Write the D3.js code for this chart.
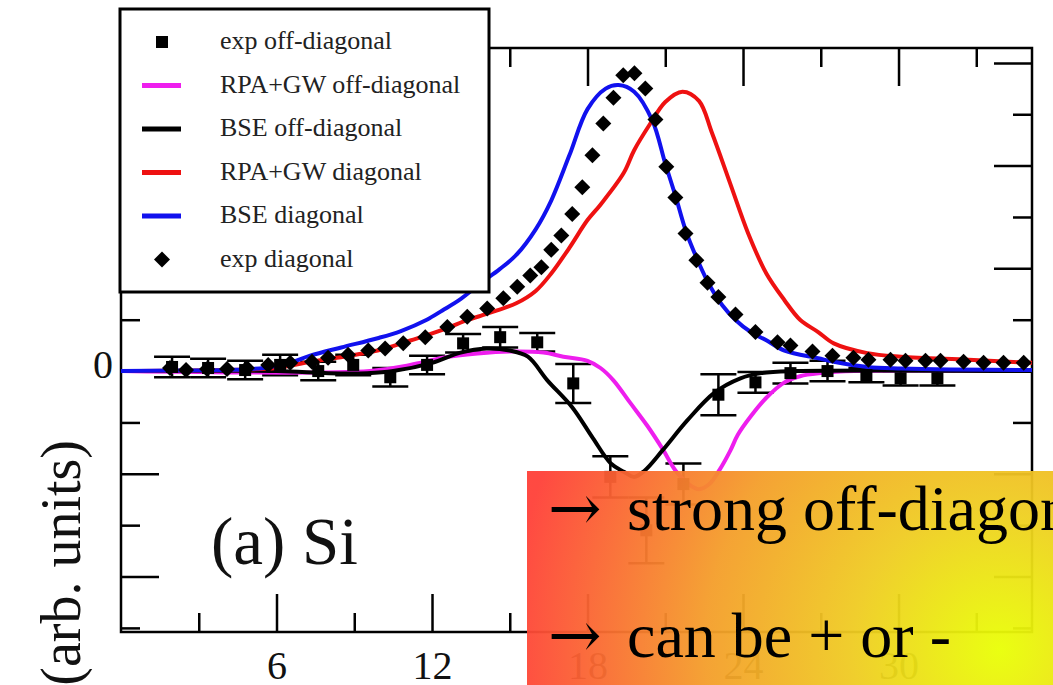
<!DOCTYPE html>
<html>
<head>
<meta charset="utf-8">
<script src="https://cdn.jsdelivr.net/npm/d3@7"></script>
<style>
  body { margin: 0; background: #fff; }
  svg { display: block; font-family: "Liberation Serif", "Times New Roman", serif; }
</style>
</head>
<body>
<div id="chart"></div>
<script>
// ---- data (energy in x, arb. units in y) ----
var xMajor = [6, 12, 18, 24, 30];
var xMinor = [3, 9, 15, 21, 27, 33];
var yMajor = [-2, -1, 0, 1, 2, 3];
var yMinor = [-2.5, -1.5, -0.5, 0.5, 1.5, 2.5];

var bseDiag = [[0,0],[2,0.005],[4,0.01],[5.5,0.03],[6.5,0.08],[7.3,0.15],[8.5,0.23],[9.9,0.32],[10.8,0.39],
  [11.8,0.5],[12.4,0.59],[13.1,0.7],[13.9,0.86],[14.6,0.99],[15.25,1.13],[16.0,1.38],[16.6,1.66],[17.3,2.1],
  [18.0,2.55],[18.7,2.75],[19.2,2.785],[19.8,2.72],[20.5,2.44],[21.0,2.02],[21.4,1.7],[21.8,1.36],[22.3,1.05],
  [22.7,0.84],[23.2,0.64],[23.7,0.5],[24.3,0.38],[24.9,0.3],[25.6,0.2],[26.9,0.125],[27.5,0.09],[28.8,0.04],
  [30.1,0.025],[32,0.015],[35.15,0.01]];

var rpaDiag = [[0,0],[4,0.01],[6,0.03],[7.3,0.09],[8.6,0.14],[9.9,0.2],[11.2,0.3],[12.4,0.4],[13.4,0.5],
  [13.9,0.54],[15.25,0.66],[16.0,0.78],[16.6,0.95],[17.3,1.2],[18.0,1.47],[18.5,1.62],[19.4,1.93],[19.8,2.15],
  [20.4,2.4],[21.0,2.62],[21.66,2.72],[22.3,2.63],[22.8,2.32],[23.5,1.83],[24.2,1.34],[24.9,0.95],[25.6,0.69],
  [26.2,0.5],[26.9,0.38],[27.5,0.27],[28.8,0.175],[30.1,0.14],[32.7,0.11],[35.15,0.08]];

var rpaOff = [[0,0],[9.6,0],[11.16,0.06],[12.43,0.13],[13.75,0.17],[15.0,0.19],[16.3,0.18],[17.07,0.14],
  [18.0,0.1],[18.5,0.03],[19.0,-0.09],[19.65,-0.31],[20.3,-0.53],[20.9,-0.76],[21.4,-0.97],[21.9,-1.1],
  [22.3,-1.15],[22.7,-1.1],[23.1,-0.96],[23.5,-0.78],[23.8,-0.62],[24.3,-0.44],[24.9,-0.26],[25.6,-0.11],
  [26.2,-0.05],[27,-0.02],[28.3,0],[35.15,0]];

var bseOff = [[0,0],[6,0],[8,-0.02],[9.5,-0.02],[10.5,0.0],[12.0,0.08],[13.1,0.18],[14.1,0.22],[15.0,0.2],
  [15.7,0.14],[16.45,-0.09],[17.4,-0.35],[18.2,-0.65],[18.9,-0.9],[19.4,-0.98],[19.8,-1.03],[20.2,-0.97],
  [20.9,-0.77],[21.85,-0.48],[22.9,-0.21],[23.9,-0.07],[24.7,-0.02],[26,0],[35.15,0]];

var expDiagX = [1.89,2.51,3.32,4.09,4.86,5.68,6.53,7.37,7.99,8.76,9.54,10.19,10.89,11.74,12.59,13.36,14.13,
  14.75,15.29,15.79,16.22,16.6,16.99,17.41,17.8,18.19,18.61,19.0,19.38,19.81,20.23,20.62,21.04,21.39,21.78,
  22.2,22.63,23.05,23.71,24.48,25.33,25.83,26.68,27.45,28.26,28.84,29.69,30.27,31.04,31.62,32.51,33.28,34.05,34.83];
var expDiagY = [0.03,0.01,0.02,0.02,0.03,0.06,0.08,0.09,0.13,0.16,0.2,0.22,0.27,0.33,0.43,0.53,0.61,
  0.71,0.82,0.93,1.01,1.18,1.32,1.53,1.79,2.1,2.41,2.66,2.88,2.9,2.75,2.45,1.99,1.69,1.34,
  1.08,0.86,0.72,0.55,0.38,0.28,0.25,0.19,0.15,0.13,0.11,0.11,0.1,0.1,0.1,0.09,0.08,0.08,0.08];

var expOffX = [1.97,3.36,4.79,6.14,7.61,8.96,10.39,11.81,13.2,14.63,16.06,17.45,18.88,20.27,21.7,
  23.05,24.48,25.83,27.26,28.76,30.08,31.5];
var expOffY = [0.04,0.03,0.01,0.06,0.0,0.06,-0.06,0.06,0.27,0.33,0.28,-0.12,-1.03,-1.55,-1.1,
  -0.23,-0.11,-0.02,0.0,-0.04,-0.07,-0.07];
var expOffErr = [0.1,0.09,0.09,0.1,0.09,0.1,0.09,0.09,0.09,0.1,0.09,0.19,0.2,0.32,0.2,
  0.2,0.1,0.1,0.1,0.07,0.07,0.07];

var legendNames = ["exp off-diagonal", "RPA+GW off-diagonal", "BSE off-diagonal",
  "RPA+GW diagonal", "BSE diagonal", "exp diagonal"];
var legendKinds = ["square", "line", "line", "line", "line", "diamond"];
var legendColors = ["#000", "#ee1eee", "#000", "#ee1111", "#1111ee", "#000"];

var noteLines = ["strong off-diagonal", "can be + or -"];

// ---- drawing ----
var width = 1053, height = 685;
var serif = "'Liberation Serif', 'Times New Roman', serif";
var svg = d3.select("#chart").append("svg")
    .attr("width", width)
    .attr("height", height);

var x = d3.scaleLinear().domain([0, 35.15]).range([121, 1032]);
var y = d3.scaleLinear().domain([-2.54, 3.145]).range([632, 48]);

var line = d3.line()
    .curve(d3.curveCatmullRom.alpha(0.5))
    .x(function(d) { return x(d[0]); })
    .y(function(d) { return y(d[1]); });

// axes: ticks point inwards on all four sides
function styleAxis(g) {
    g.attr("font-family", serif);
    g.select(".domain").remove();
    g.selectAll(".tick line").attr("stroke", "#000").attr("stroke-width", 2.5);
    g.selectAll(".tick text").attr("fill", "#111").attr("font-size", 40)
        .style("font-family", serif);
}

svg.append("g").attr("transform", "translate(0,632)")
    .call(d3.axisBottom(x).tickValues(xMajor).tickSize(-38).tickPadding(19).tickFormat(d3.format("d")))
    .call(styleAxis);
svg.append("g").attr("transform", "translate(0,632)")
    .call(d3.axisBottom(x).tickValues(xMinor).tickSize(-19).tickFormat(""))
    .call(styleAxis);
svg.append("g").attr("transform", "translate(0,48)")
    .call(d3.axisTop(x).tickValues(xMajor).tickSize(-38).tickFormat(""))
    .call(styleAxis);
svg.append("g").attr("transform", "translate(0,48)")
    .call(d3.axisTop(x).tickValues(xMinor).tickSize(-19).tickFormat(""))
    .call(styleAxis);

svg.append("g").attr("class", "y-left").attr("transform", "translate(121,0)")
    .call(d3.axisLeft(y).tickValues(yMajor).tickSize(-38).tickPadding(8)
        .tickFormat(function(d) { return d === 0 ? "0" : ""; }))
    .call(styleAxis);
svg.select(".y-left").selectAll(".tick text").attr("dy", "0.15em");
svg.append("g").attr("transform", "translate(121,0)")
    .call(d3.axisLeft(y).tickValues(yMinor).tickSize(-19).tickFormat(""))
    .call(styleAxis);
svg.append("g").attr("transform", "translate(1032,0)")
    .call(d3.axisRight(y).tickValues(yMajor).tickSize(-38).tickFormat(""))
    .call(styleAxis);
svg.append("g").attr("transform", "translate(1032,0)")
    .call(d3.axisRight(y).tickValues(yMinor).tickSize(-19).tickFormat(""))
    .call(styleAxis);

// frame
svg.append("rect")
    .attr("x", x.range()[0]).attr("y", y.range()[1])
    .attr("width", x.range()[1] - x.range()[0])
    .attr("height", y.range()[0] - y.range()[1])
    .attr("fill", "none").attr("stroke", "#000").attr("stroke-width", 2.5);

// error bars for exp off-diagonal
var capW = 18;
var bars = svg.append("g").attr("stroke", "#000").attr("stroke-width", 2.5);
expOffX.forEach(function(xv, i) {
    var top = y(expOffY[i] + expOffErr[i]), bot = y(expOffY[i] - expOffErr[i]);
    bars.append("line").attr("x1", x(xv)).attr("x2", x(xv)).attr("y1", top).attr("y2", bot);
    bars.append("line").attr("x1", x(xv) - capW).attr("x2", x(xv) + capW).attr("y1", top).attr("y2", top);
    bars.append("line").attr("x1", x(xv) - capW).attr("x2", x(xv) + capW).attr("y1", bot).attr("y2", bot);
});

// curves
[[rpaOff, legendColors[1]], [bseOff, legendColors[2]], [rpaDiag, legendColors[3]], [bseDiag, legendColors[4]]]
    .forEach(function(s) {
        svg.append("path")
            .datum(s[0])
            .attr("fill", "none")
            .attr("stroke", s[1])
            .attr("stroke-width", 4)
            .attr("d", line);
    });

// squares
svg.append("g").selectAll("rect")
    .data(expOffX)
    .enter().append("rect")
    .attr("x", function(d) { return x(d) - 6; })
    .attr("y", function(d, i) { return y(expOffY[i]) - 6; })
    .attr("width", 12).attr("height", 12)
    .attr("fill", "#000");

// diamonds
var diamond = "M0,-8L8,0L0,8L-8,0Z";
svg.append("g").selectAll("path")
    .data(expDiagX)
    .enter().append("path")
    .attr("d", diamond)
    .attr("transform", function(d, i) { return "translate(" + x(d) + "," + y(expDiagY[i]) + ")"; })
    .attr("fill", "#000");

// legend
var legend = svg.append("g");
legend.append("rect")
    .attr("x", 120).attr("y", 9).attr("width", 369).attr("height", 283)
    .attr("fill", "#fff").attr("stroke", "#000").attr("stroke-width", 3);
legendNames.forEach(function(name, i) {
    var ly = 42 + i * 43.5;
    if (legendKinds[i] === "line") {
        legend.append("line").attr("x1", 142).attr("x2", 181).attr("y1", ly).attr("y2", ly)
            .attr("stroke", legendColors[i]).attr("stroke-width", 5);
    } else if (legendKinds[i] === "square") {
        legend.append("rect").attr("x", 156).attr("y", ly - 6).attr("width", 12).attr("height", 12)
            .attr("fill", "#000");
    } else {
        legend.append("path").attr("d", diamond).attr("transform", "translate(162," + ly + ")")
            .attr("fill", "#000");
    }
    legend.append("text").attr("x", 220).attr("y", ly + 7)
        .attr("font-size", 26).attr("fill", "#222").text(name);
});

// panel label and y title
svg.append("text").attr("x", 211).attr("y", 564).attr("font-size", 67).attr("fill", "#111").text("(a) Si");
svg.append("text")
    .attr("transform", "translate(80,440) rotate(-90)")
    .attr("text-anchor", "end")
    .attr("font-size", 56).attr("fill", "#111")
    .text("(arb. units)");

// overlay note box
var defs = svg.append("defs");
var grad = defs.append("radialGradient").attr("id", "noteGrad")
    .attr("gradientUnits", "userSpaceOnUse")
    .attr("cx", 1000).attr("cy", 650).attr("r", 490);
grad.append("stop").attr("offset", "0").attr("stop-color", "#e9ff05");
grad.append("stop").attr("offset", "0.3").attr("stop-color", "#efcc22");
grad.append("stop").attr("offset", "0.6").attr("stop-color", "#f49e2a");
grad.append("stop").attr("offset", "1").attr("stop-color", "#ff4038");

svg.append("rect")
    .attr("x", 527).attr("y", 471).attr("width", width - 527).attr("height", height - 471)
    .attr("fill", "url(#noteGrad)").attr("opacity", 0.95);

noteLines.forEach(function(t, i) {
    var note = svg.append("text").attr("x", 548).attr("y", 530 + i * 127)
        .attr("font-size", 64).attr("fill", "#000");
    note.append("tspan").style("font-family", "'DejaVu Serif', serif").text("\u2192");
    note.append("tspan").attr("x", 627).text(t);
});
</script>
</body>
</html>
